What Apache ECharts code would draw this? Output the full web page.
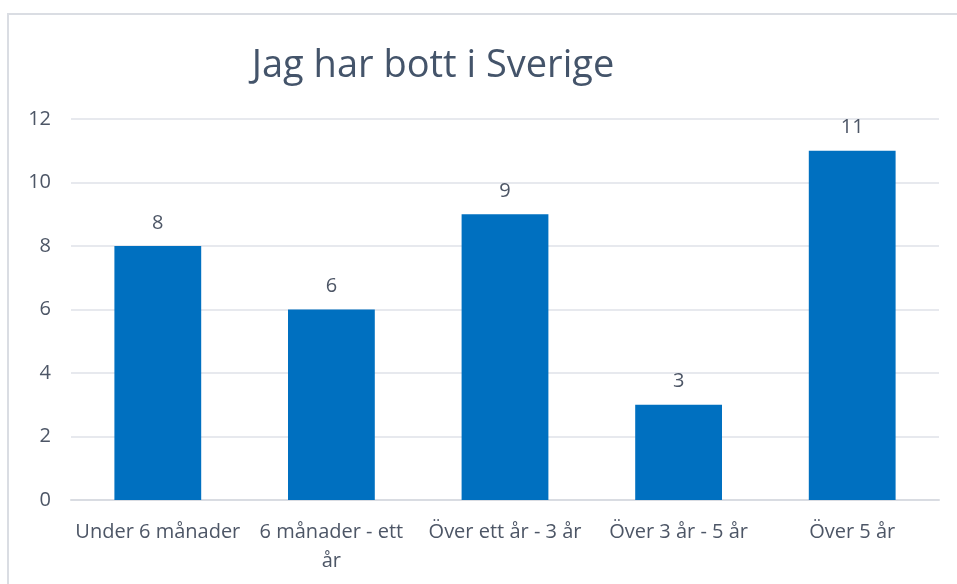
<!DOCTYPE html>
<html>
<head>
<meta charset="utf-8">
<script src="https://cdn.jsdelivr.net/npm/echarts@6/dist/echarts.min.js"></script>
<style>
    html, body { margin: 0; padding: 0; background: #fff; }
    #chart { width: 957px; height: 584px; }
</style>
</head>
<body>
<div id="chart"></div>
<script>
// kategorier och antal svar
const categories = ['Under 6 månader', '6 månader - ett år', 'Över ett år - 3 år', 'Över 3 år - 5 år', 'Över 5 år']
const values = [8, 6, 9, 3, 11]
const yTicks = [0, 2, 4, 6, 8, 10, 12]

const textColor = '#4d5666'
const fontFamily = 'Open Sans'

const chart = echarts.init(document.getElementById('chart'))
const option = {
    backgroundColor: '#fff',
    animation: false,
    // ramen runt diagrammet (bara vänster och överkant syns)
    graphic: [
        {
            type: 'rect',
            shape: { x: 8, y: 14, width: 1000, height: 600 },
            style: { fill: 'none', stroke: '#dadde3', lineWidth: 2 },
        },
    ],
    title: {
        text: 'Jag har bott i Sverige',
        left: 428,
        top: 42,
        textAlign: 'center',
        textStyle: {
            color: '#44546a',
            fontFamily: fontFamily,
            fontWeight: 'normal',
            fontSize: 38,
        },
    },
    grid: {
        left: 71,
        right: 18,
        top: 119,
        bottom: 84,
        containLabel: false,
    },
    xAxis: {
        type: 'category',
        data: categories,
        axisTick: { show: false },
        axisLine: { lineStyle: { color: '#d9dce2', width: 2 } },
        axisLabel: {
            color: textColor,
            fontFamily: fontFamily,
            fontSize: 20,
            margin: 18,
            lineHeight: 29,
            interval: 0,
            formatter: v => (v === '6 månader - ett år' ? '6 månader - ett\når' : v),
        },
    },
    yAxis: {
        type: 'value',
        min: yTicks[0],
        max: yTicks[yTicks.length - 1],
        interval: 2,
        axisLine: { show: false },
        axisTick: { show: false },
        splitLine: { lineStyle: { color: '#dfe2e8', width: 1.5 } },
        axisLabel: {
            color: textColor,
            fontFamily: fontFamily,
            fontSize: 20,
            margin: 20,
        },
    },
    series: [
        {
            type: 'bar',
            data: values,
            barWidth: '50%',
            itemStyle: { color: '#0070c0' },
            label: {
                show: true,
                position: 'top',
                distance: 13,
                color: textColor,
                fontFamily: fontFamily,
                fontSize: 20,
            },
        },
    ],
}
chart.setOption(option)
</script>
</body>
</html>
